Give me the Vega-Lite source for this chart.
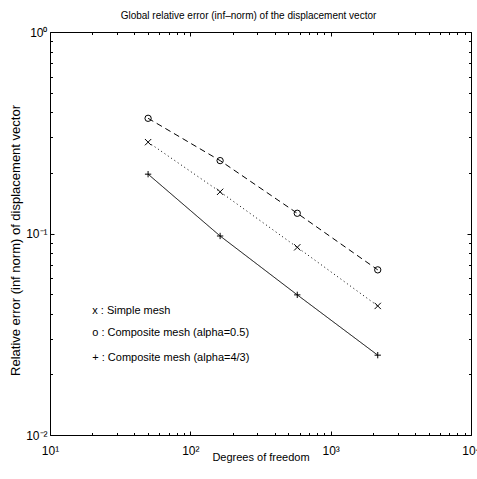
{
  "$schema": "https://vega.github.io/schema/vega-lite/v6.json",
  "width": 421,
  "height": 403,
  "autosize": {"type": "none"},
  "padding": {"left": 50, "top": 32, "right": 6, "bottom": 44},
  "background": "white",
  "config": {
    "font": "Liberation Sans",
    "view": {"stroke": null},
    "axis": {
      "grid": false,
      "domainColor": "black",
      "domainWidth": 1,
      "tickColor": "black",
      "tickWidth": 1,
      "labelColor": "black",
      "titleColor": "black",
      "labelFont": "Liberation Sans",
      "titleFont": "Liberation Sans",
      "titleFontWeight": "normal",
      "labelFontSize": 12,
      "titleFontSize": 11,
      "labelFlush": false,
      "labelOverlap": false,
      "labelBound": false
    }
  },
  "title": {
    "text": "Global relative error (inf–norm) of the displacement vector",
    "fontSize": 10,
    "fontWeight": "normal",
    "font": "Liberation Sans",
    "color": "black",
    "frame": "group",
    "anchor": "middle",
    "offset": 5,
    "dx": -12
  },
  "datasets": {
    "series": [
      {"series": "Composite mesh (alpha=0.5)", "dof": 50, "err": 0.373},
      {"series": "Composite mesh (alpha=0.5)", "dof": 163, "err": 0.23},
      {"series": "Composite mesh (alpha=0.5)", "dof": 578, "err": 0.126},
      {"series": "Composite mesh (alpha=0.5)", "dof": 2165, "err": 0.066},
      {"series": "Simple mesh", "dof": 50, "err": 0.284},
      {"series": "Simple mesh", "dof": 163, "err": 0.161},
      {"series": "Simple mesh", "dof": 578, "err": 0.0854},
      {"series": "Simple mesh", "dof": 2165, "err": 0.0437},
      {"series": "Composite mesh (alpha=4/3)", "dof": 50, "err": 0.197},
      {"series": "Composite mesh (alpha=4/3)", "dof": 163, "err": 0.0972},
      {"series": "Composite mesh (alpha=4/3)", "dof": 578, "err": 0.0496},
      {"series": "Composite mesh (alpha=4/3)", "dof": 2165, "err": 0.0249}
    ],
    "notes": [
      {"label": "x : Simple mesh", "dof": 20, "err": 0.0414},
      {"label": "o : Composite mesh (alpha=0.5)", "dof": 20, "err": 0.0321},
      {"label": "+ : Composite mesh (alpha=4/3)", "dof": 20, "err": 0.0241}
    ]
  },
  "resolve": {"axis": {"x": "independent", "y": "independent"}},
  "layer": [
    {
      "data": {"name": "series"},
      "mark": {"type": "line", "stroke": "black", "strokeWidth": 1},
      "encoding": {
        "x": {
          "field": "dof", "type": "quantitative",
          "scale": {"type": "log", "domain": [10, 10000], "nice": false},
          "axis": {
            "orient": "bottom",
            "values": [10, 100, 1000, 10000],
            "labelExpr": "datum.value < 50 ? '10¹' : datum.value < 500 ? '10²' : datum.value < 5000 ? '10³' : '10⁴'",
            "ticks": false,
            "labelPadding": 10,
            "title": "Degrees of freedom",
            "titleColor": "black",
            "titlePadding": -5
          }
        },
        "y": {
          "field": "err", "type": "quantitative",
          "scale": {"type": "log", "domain": [0.01, 1], "nice": false},
          "axis": {
            "orient": "left",
            "values": [0.01, 0.1, 1],
            "labelExpr": "datum.value > 0.5 ? '10⁰' : datum.value > 0.05 ? '10⁻¹' : '10⁻²'",
            "ticks": false,
            "labelPadding": 3,
            "title": "Relative error (inf norm) of displacement vector",
            "titleColor": "black",
            "titleFontSize": 13,
            "titleY": 208,
            "titlePadding": 3
          }
        },
        "strokeDash": {
          "field": "series", "type": "nominal",
          "scale": {
            "domain": ["Composite mesh (alpha=0.5)", "Simple mesh", "Composite mesh (alpha=4/3)"],
            "range": [[6, 4], [1, 3], [1, 0]]
          },
          "legend": null
        }
      }
    },
    {
      "data": {"name": "series"},
      "mark": {"type": "point", "filled": false, "stroke": "black", "strokeWidth": 1, "size": 40, "opacity": 1},
      "encoding": {
        "x": {
          "field": "dof", "type": "quantitative",
          "scale": {"type": "log", "domain": [10, 10000], "nice": false},
          "axis": {"orient": "bottom", "values": [10, 100, 1000, 10000], "labels": false, "domain": false, "tickSize": -4, "title": null}
        },
        "y": {
          "field": "err", "type": "quantitative",
          "scale": {"type": "log", "domain": [0.01, 1], "nice": false},
          "axis": {"orient": "left", "values": [0.01, 0.1, 1], "labels": false, "domain": false, "tickSize": -4, "title": null}
        },
        "shape": {
          "field": "series", "type": "nominal",
          "scale": {
            "domain": ["Composite mesh (alpha=0.5)", "Simple mesh", "Composite mesh (alpha=4/3)"],
            "range": ["circle", "M-1,-1L1,1M-1,1L1,-1", "M-1,0L1,0M0,-1L0,1"]
          },
          "legend": null
        }
      }
    },
    {
      "data": {"name": "notes"},
      "mark": {"type": "text", "align": "left", "baseline": "middle", "fontSize": 11, "font": "Liberation Sans", "color": "black"},
      "encoding": {
        "x": {
          "field": "dof", "type": "quantitative",
          "scale": {"type": "log", "domain": [10, 10000], "nice": false},
          "axis": {"orient": "bottom", "values": [20, 30, 40, 50, 60, 70, 80, 90, 200, 300, 400, 500, 600, 700, 800, 900, 2000, 3000, 4000, 5000, 6000, 7000, 8000, 9000], "labels": false, "domain": false, "tickSize": -2.5, "title": null}
        },
        "y": {
          "field": "err", "type": "quantitative",
          "scale": {"type": "log", "domain": [0.01, 1], "nice": false},
          "axis": {"orient": "left", "values": [0.02, 0.03, 0.04, 0.05, 0.06, 0.07, 0.08, 0.09, 0.2, 0.3, 0.4, 0.5, 0.6, 0.7, 0.8, 0.9], "labels": false, "domain": false, "tickSize": -2.5, "title": null}
        },
        "text": {"field": "label", "type": "nominal"}
      }
    },
    {
      "data": {"name": "series"},
      "mark": {"type": "point", "opacity": 0},
      "encoding": {
        "x": {
          "field": "dof", "type": "quantitative",
          "scale": {"type": "log", "domain": [10, 10000], "nice": false},
          "axis": {"orient": "top", "values": [10, 100, 1000, 10000], "labels": false, "domain": true, "tickSize": -4, "title": null}
        },
        "y": {
          "field": "err", "type": "quantitative",
          "scale": {"type": "log", "domain": [0.01, 1], "nice": false},
          "axis": {"orient": "right", "values": [0.01, 0.1, 1], "labels": false, "domain": true, "tickSize": -4, "title": null}
        }
      }
    },
    {
      "data": {"name": "series"},
      "mark": {"type": "point", "opacity": 0},
      "encoding": {
        "x": {
          "field": "dof", "type": "quantitative",
          "scale": {"type": "log", "domain": [10, 10000], "nice": false},
          "axis": {"orient": "top", "values": [20, 30, 40, 50, 60, 70, 80, 90, 200, 300, 400, 500, 600, 700, 800, 900, 2000, 3000, 4000, 5000, 6000, 7000, 8000, 9000], "labels": false, "domain": false, "tickSize": -2.5, "title": null}
        },
        "y": {
          "field": "err", "type": "quantitative",
          "scale": {"type": "log", "domain": [0.01, 1], "nice": false},
          "axis": {"orient": "right", "values": [0.02, 0.03, 0.04, 0.05, 0.06, 0.07, 0.08, 0.09, 0.2, 0.3, 0.4, 0.5, 0.6, 0.7, 0.8, 0.9], "labels": false, "domain": false, "tickSize": -2.5, "title": null}
        }
      }
    }
  ]
}
